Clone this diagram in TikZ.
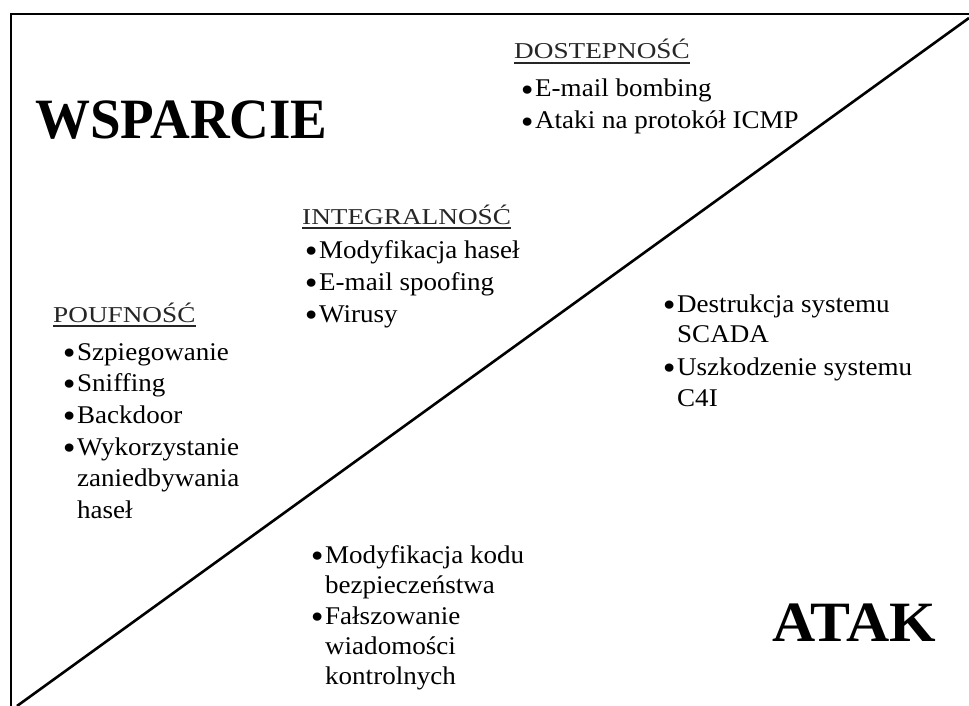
\documentclass[tikz,border=0pt]{standalone}
\usepackage{fontspec}
\setmainfont{Liberation Serif}[FakeStretch=1.06]
\newfontfamily\headfont{Liberation Serif}[FakeStretch=1.2]
\newfontfamily\titlefont{Liberation Serif}[FakeStretch=1.05]
\newfontfamily\titlefontnarrow{Liberation Serif}[FakeStretch=0.965]
\newcommand{\bul}{\llap{\raisebox{-4.5pt}{\scalebox{1.35}{•}}\hspace{1.5pt}}}
\begin{document}
\begin{tikzpicture}[x=1pt,y=-1pt,
  txt/.style={anchor=base west,inner sep=0pt,font=\fontsize{25.5}{30}\selectfont},
  head/.style={anchor=base west,inner sep=0pt,text=black!85,font=\headfont\fontsize{22.7}{27}\selectfont},
  ttl/.style={anchor=base west,inner sep=0pt,font=\titlefont\bfseries\fontsize{57}{60}\selectfont},
  ttlnarrow/.style={ttl,font=\titlefontnarrow\bfseries\fontsize{57}{60}\selectfont},
  uline/.style={line width=1.4pt,black!85},
  frame/.style={line width=2pt},
  diag/.style={line width=2.6pt}]
\useasboundingbox (0,0) rectangle (969,706);
% frame and dividing diagonal
\coordinate (fb) at (11,706);
\coordinate (ft) at (11,14);
\coordinate (fr) at (969,14);
\coordinate (dl) at (17,706);
\coordinate (dr) at (969,18);
\draw[frame] (fb) -- (ft) -- (fr);
\draw[diag] (dl) -- (dr);
% titles
\node[ttlnarrow] (wsp) at (35,139) {WSPARCIE};
\node[ttl] (atak) at (772,641) {ATAK};
% availability
\node[head] (dost) at (514,59) {DOSTEPNOŚĆ};
\draw[uline] (dost.base west) ++(0,4) coordinate (d1) -- (d1 -| dost.east) coordinate (d2);
\node[txt] (d_a) at (535,97) {\bul E-mail bombing};
\node[txt] (d_b) at (535,129) {\bul Ataki na protokół ICMP};
% integrity
\node[head] (integ) at (302,224) {INTEGRALNOŚĆ};
\draw[uline] (integ.base west) ++(0,4) coordinate (i1) -- (i1 -| integ.east) coordinate (i2);
\node[txt] (i_a) at (319,258) {\bul Modyfikacja haseł};
\node[txt] (i_b) at (319,290) {\bul E-mail spoofing};
\node[txt] (i_c) at (319,322) {\bul Wirusy};
% confidentiality
\node[head] (pouf) at (53,322) {POUFNOŚĆ};
\draw[uline] (pouf.base west) ++(0,4) coordinate (p1) -- (p1 -| pouf.east) coordinate (p2);
\node[txt] (p_a) at (77,360) {\bul Szpiegowanie};
\node[txt] (p_b) at (77,391) {\bul Sniffing};
\node[txt] (p_c) at (77,423) {\bul Backdoor};
\node[txt] (p_d) at (77,455) {\bul Wykorzystanie};
\node[txt] (p_e) at (77,486) {zaniedbywania};
\node[txt] (p_f) at (77,518) {haseł};
% attack, right
\node[txt] (r_a) at (677,312) {\bul Destrukcja systemu};
\node[txt] (r_b) at (677,342) {SCADA};
\node[txt] (r_c) at (677,375) {\bul Uszkodzenie systemu};
\node[txt] (r_d) at (677,406) {C4I};
% attack, bottom
\node[txt] (b_a) at (325,563) {\bul Modyfikacja kodu};
\node[txt] (b_b) at (325,593) {bezpieczeństwa};
\node[txt] (b_c) at (325,624) {\bul Fałszowanie};
\node[txt] (b_d) at (325,654) {wiadomości};
\node[txt] (b_e) at (325,684) {kontrolnych};
\end{tikzpicture}
\end{document}
